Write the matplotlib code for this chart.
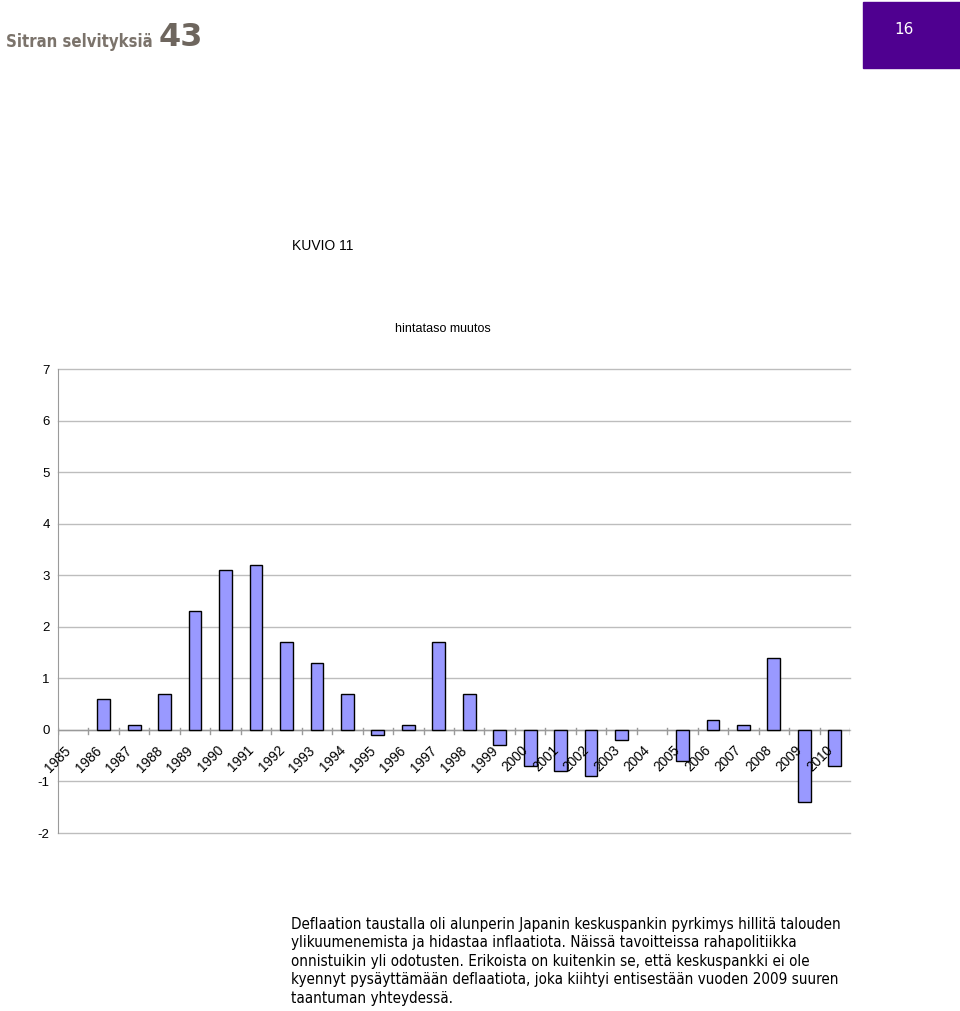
import numpy as np
import matplotlib
matplotlib.use("Agg")
import matplotlib.pyplot as plt
from matplotlib.patches import Rectangle

# ----------------------------- Data -----------------------------
years = [str(y) for y in range(1985, 2011)]
change = [0.0, 0.6, 0.1, 0.7, 2.3, 3.1, 3.2, 1.7, 1.3, 0.7, -0.1, 0.1, 1.7,
          0.7, -0.3, -0.7, -0.8, -0.9, -0.2, 0.0, -0.6, 0.2, 0.1, 1.4, -1.4, -0.7]
y_ticks = [-2, -1, 0, 1, 2, 3, 4, 5, 6, 7]

body_lines = [
    "Deflaation taustalla oli alunperin Japanin keskuspankin pyrkimys hillitä talouden",
    "ylikuumenemista ja hidastaa inflaatiota. Näissä tavoitteissa rahapolitiikka",
    "onnistuikin yli odotusten. Erikoista on kuitenkin se, että keskuspankki ei ole",
    "kyennyt pysäyttämään deflaatiota, joka kiihtyi entisestään vuoden 2009 suuren",
    "taantuman yhteydessä.",
]

W, H = 960, 1011
plt.rcParams["font.family"] = ["Liberation Sans", "DejaVu Sans"]

fig = plt.figure(figsize=(W / 100, H / 100), dpi=100)

def fx(px):
    return px / W

def fy(py):
    return 1 - py / H

# ----------------------------- Header -----------------------------
fig.text(fx(6), fy(42), "Sitran selvityksiä", fontsize=12, fontweight="bold",
         color="#7b736b", family="DejaVu Sans", stretch="condensed",
         va="center", ha="left")
fig.text(fx(159), fy(38), "43", fontsize=23, fontweight="bold",
         color="#6e665e", family="DejaVu Sans", va="center", ha="left")
fig.patches.append(Rectangle((fx(863), fy(68)), fx(97), fy(2) - fy(68),
                             transform=fig.transFigure, color="#4f0090"))
fig.text(fx(904), fy(29), "16", fontsize=11, color="white",
         family="DejaVu Sans", va="center", ha="center")

fig.text(fx(292), fy(246), "KUVIO 11", fontsize=10, va="center", ha="left")
fig.text(fx(443), fy(329), "hintataso muutos", fontsize=9, va="center", ha="center")

# ----------------------------- Chart -----------------------------
ax = fig.add_axes([fx(58), fy(833), fx(850) - fx(58), fy(369) - fy(833)])
x = np.arange(len(years))
vals = np.array(change)
nz = vals != 0
ax.bar(x[nz], vals[nz], width=0.42, color="#9999ff", edgecolor="black",
       linewidth=1.0, zorder=3)

ax.set_xlim(-0.5, len(years) - 0.5)
ax.set_ylim(-2, 7)
ax.set_yticks(y_ticks)
ax.set_yticklabels([str(t) for t in y_ticks], fontsize=9.5)
ax.tick_params(axis="y", length=0, pad=6)
for t in y_ticks:
    ax.axhline(t, color="#bdbdbd", linewidth=1.0, zorder=0, clip_on=False)
ax.set_xticks([])

for s in ("top", "right", "bottom"):
    ax.spines[s].set_visible(False)
ax.spines["left"].set_color("#9a9a9a")

# category axis at zero
ax.axhline(0, color="#9a9a9a", linewidth=1.0, zorder=2)
for b in np.arange(-0.5, len(years), 1.0):
    ax.plot([b, b], [0.04, -0.08], color="#9a9a9a", linewidth=1.0, zorder=2)

for i, lab in enumerate(years):
    ax.text(i - 0.3, -0.26, lab, rotation=45, ha="right", va="top",
            rotation_mode="anchor", fontsize=9.8, zorder=4)

# ----------------------------- Body text -----------------------------
for k, line in enumerate(body_lines):
    fig.text(fx(291), fy(924 + k * 18.6), line, fontsize=10.9,
             family="DejaVu Sans", stretch="condensed",
             va="center", ha="left", color="black")

fig.savefig("out.png", dpi=100)
